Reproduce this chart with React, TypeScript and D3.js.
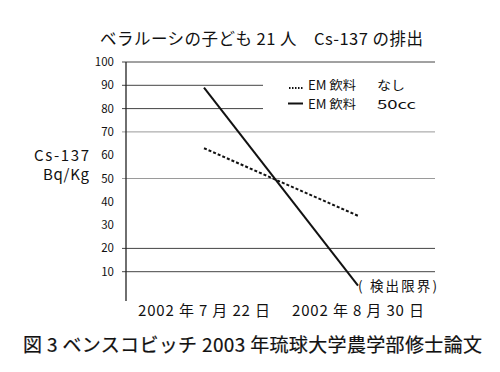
import React from "react";
import * as d3 from "d3";

const dates = ["2002 年 7 月 22 日", "2002 年 8 月 30 日"];
const seriesNone = [63, 34];
const seriesEM = [89, 4];
const tickValues = [10, 20, 30, 40, 50, 60, 70, 80, 90, 100];
const gridValues = [10, 20, 50, 70, 80, 90, 100];
const shortGrid = [80, 90];
const lightGrid = [50, 70];

const FONT = "'Noto Sans CJK JP', 'Noto Sans', sans-serif";

export default function App() {
  const y = d3.scaleLinear().domain([0, 100]).range([295, 62]);
  const x = d3.scalePoint<string>().domain(dates).range([204, 358]);
  const axisX = 126;
  const line = d3
    .line<number>()
    .x((_, i) => x(dates[i]) as number)
    .y((d) => y(d));

  return (
    <svg
      width={500}
      height={372}
      style={{ position: "absolute", left: 0, top: 0, background: "#fff" }}
      fontFamily={FONT}
    >
      <rect width={500} height={372} fill="#fff" />
      <text x={100} y={45} fontSize={16.5} fill="#111" textLength={323} lengthAdjust="spacing">
        ベラルーシの子ども 21 人　Cs-137 の排出
      </text>
      {gridValues.map((v) => (
        <line
          key={v}
          x1={axisX - 4}
          x2={shortGrid.includes(v) ? 263 : 435}
          y1={y(v)}
          y2={y(v)}
          stroke={lightGrid.includes(v) ? "#9a9a9a" : "#444"}
          strokeWidth={1}
        />
      ))}
      <line x1={axisX} x2={axisX} y1={y(100)} y2={301} stroke="#222" strokeWidth={1.3} />
      {tickValues.map((v) => (
        <text key={v} x={114} y={y(v) + 4} textAnchor="end" fontSize={11.5} fill="#111">
          {v}
        </text>
      ))}
      <text x={34} y={161} fontSize={15} fill="#111" textLength={55} lengthAdjust="spacing">
        Cs-137
      </text>
      <text x={43} y={180} fontSize={15} fill="#111" textLength={46} lengthAdjust="spacing">
        Bq/Kg
      </text>
      <path d={line(seriesNone) || ""} fill="none" stroke="#111" strokeWidth={2} strokeDasharray="3,2" />
      <path d={line(seriesEM) || ""} fill="none" stroke="#111" strokeWidth={2} />
      {/* legend */}
      <line x1={289} x2={304} y1={88} y2={88} stroke="#111" strokeWidth={1.8} strokeDasharray="1.5,1.5" />
      <text x={308} y={90} fontSize={12.5} fill="#111" textLength={48} lengthAdjust="spacingAndGlyphs">EM 飲料</text>
      <text x={377} y={90} fontSize={12.5} fill="#111" textLength={28} lengthAdjust="spacingAndGlyphs">なし</text>
      <line x1={288} x2={303} y1={103.5} y2={103.5} stroke="#111" strokeWidth={2} />
      <text x={308} y={108.5} fontSize={12.5} fill="#111" textLength={48} lengthAdjust="spacingAndGlyphs">EM 飲料</text>
      <text x={377} y={108.5} fontSize={12.5} fill="#111" textLength={39} lengthAdjust="spacingAndGlyphs">50cc</text>
      <text x={358} y={291} fontSize={13.5} fill="#111" textLength={79} lengthAdjust="spacing">
        ( 検出限界)
      </text>
      {dates.map((d) => (
        <text
          key={d}
          x={(x(d) as number) - 66}
          y={316}
          fontSize={15}
          fill="#111"
          textLength={132}
          lengthAdjust="spacing"
        >
          {d}
        </text>
      ))}
      <text x={23} y={352} fontSize={19} fill="#111" stroke="#111" strokeWidth={0.2} textLength={459} lengthAdjust="spacing">
        図 3 ベンスコビッチ 2003 年琉球大学農学部修士論文
      </text>
    </svg>
  );
}
